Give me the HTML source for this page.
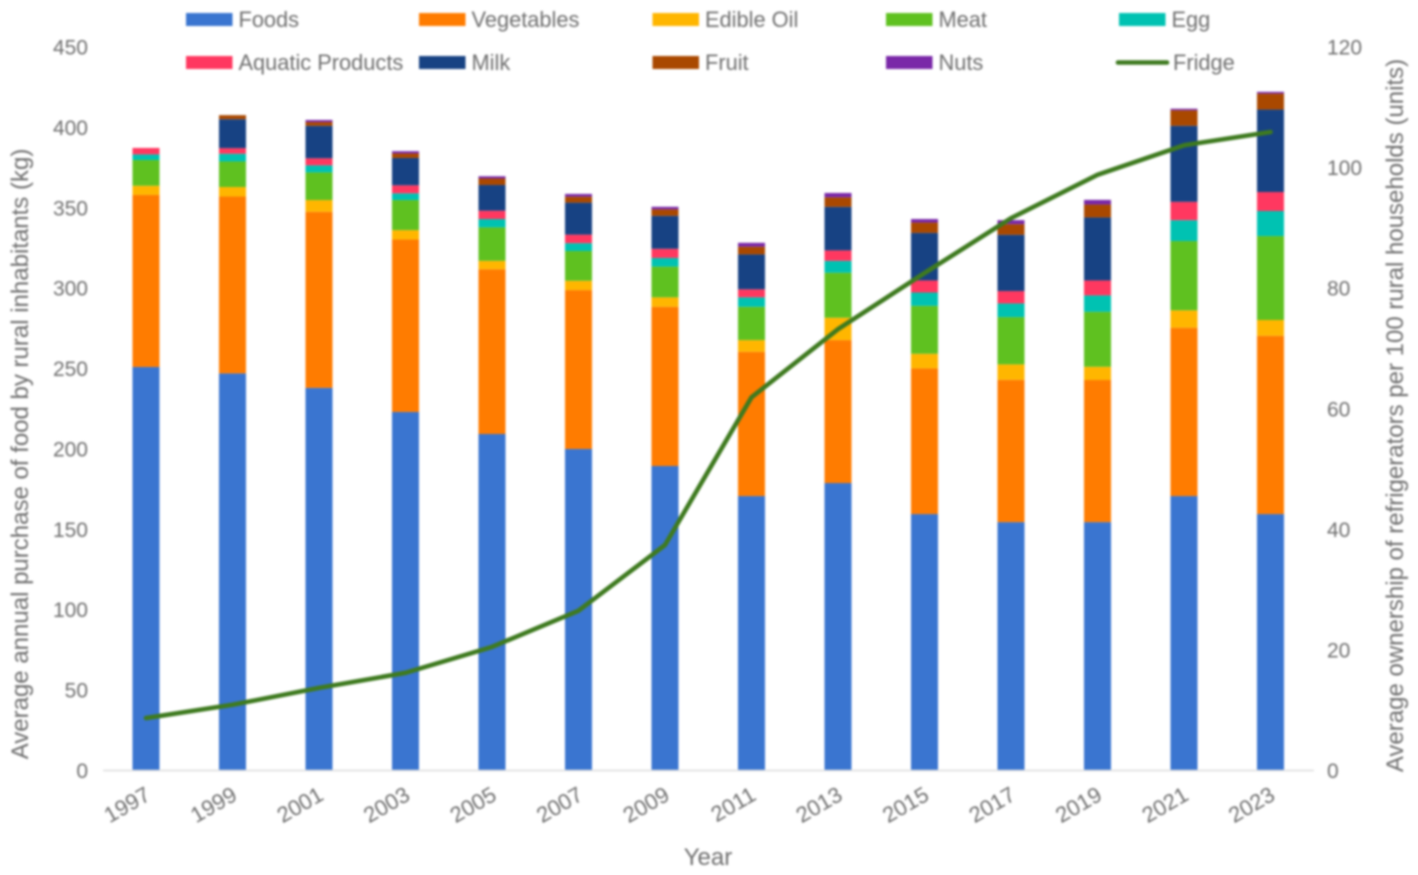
<!DOCTYPE html>
<html lang="en">
<head>
<meta charset="utf-8">
<title>Rural food purchases and refrigerator ownership</title>
<style>
  html, body { margin: 0; padding: 0; background: #fff; }
  #chart { display: block; width: 1418px; height: 875px; filter: blur(0.95px); }
  text { font-family: "Liberation Sans", Arial, sans-serif; fill: #6f6f6f; }
</style>
</head>
<body>
<svg id="chart" xmlns="http://www.w3.org/2000/svg" width="1418" height="875" viewBox="0 0 1418 875">
  <g id="bars"></g>
  <line x1="103" y1="770.5" x2="1314" y2="770.5" stroke="#dddddd" stroke-width="1.6"></line>
  <path id="fridge-line" fill="none" stroke="#3e7a1f" stroke-width="4.6" stroke-linejoin="round" stroke-linecap="round"></path>
  <g id="left-ticks"></g>
  <g id="right-ticks"></g>
  <g id="x-ticks"></g>
  <text x="708" y="865" text-anchor="middle" font-size="24">Year</text>
  <text transform="translate(28,454) rotate(-90)" text-anchor="middle" font-size="24">Average annual purchase of food by rural inhabitants (kg)</text>
  <text transform="translate(1403,415.5) rotate(-90)" text-anchor="middle" font-size="24">Average ownership of refrigerators per 100 rural households (units)</text>
  <g id="legend"></g>
</svg>
<script>
const years = [1997,1999,2001,2003,2005,2007,2009,2011,2013,2015,2017,2019,2021,2023];
const foods = [251,247,238,223,209.3,200,189.4,170.7,178.8,159.5,154.5,154.5,170.7,159.5];
const vegetables = [107,110,109.5,107.3,102.5,98.8,99,89.7,88.9,90.6,88.5,88.4,104.7,110.9];
const edibleOil = [5.7,5.9,7.3,5.8,5.2,5.8,5.9,7.3,13.9,9.1,9.6,8.2,10.8,9.8];
const meat = [16,15.9,17.2,18.7,20.8,18.5,19.1,20.7,28,29.8,29.4,34.2,43.1,52.2];
const egg = [3.5,4.8,4.4,4.2,5.2,4.9,5.4,5.9,7.4,8.3,8.5,10.2,13,15.6];
const aquaticProducts = [4,3.5,4.4,5,5.2,5.3,5.7,5,6.5,7.5,7.7,9.3,11.4,11.8];
const milk = [0,18,20.2,17,16,19.9,20.5,21.7,27.1,29.6,35,39.2,47.3,51.3];
const fruit = [0,2.5,2.3,2.8,4,3.7,4,4.8,5.9,6.4,6.6,8,9.6,9.9];
const nuts = [0,0,1.3,1.4,1.4,1.7,1.6,2.4,2.7,2.2,2.5,2.9,1,1.1];
const fridge = [8.7,10.9,13.7,16.2,20.5,26.5,37.4,61.9,73.2,82.5,91.6,98.8,103.7,105.9];
const leftTicks = [0,50,100,150,200,250,300,350,400,450];
const rightTicks = [0,20,40,60,80,100,120];

const SVG_NS = 'http://www.w3.org/2000/svg';
const baseY = 770.5, topY = 47, leftMax = 450, rightMax = 120;
const firstX = 146, stepX = 86.5, barW = 27;
function xPos(i) { return firstX + i * stepX; }
function yLeft(v) { return baseY - (v / leftMax) * (baseY - topY); }
function yRight(v) { return baseY - (v / rightMax) * (baseY - topY); }

const stackSeries = [
  { label: 'Foods', key: 'foods', values: foods, color: '#3a75d0' },
  { label: 'Vegetables', key: 'vegetables', values: vegetables, color: '#ff7c00' },
  { label: 'Edible Oil', key: 'edible-oil', values: edibleOil, color: '#ffb600' },
  { label: 'Meat', key: 'meat', values: meat, color: '#5fc120' },
  { label: 'Egg', key: 'egg', values: egg, color: '#00c2b2' },
  { label: 'Aquatic Products', key: 'aquatic-products', values: aquaticProducts, color: '#ff3860' },
  { label: 'Milk', key: 'milk', values: milk, color: '#174283' },
  { label: 'Fruit', key: 'fruit', values: fruit, color: '#a94800' },
  { label: 'Nuts', key: 'nuts', values: nuts, color: '#7a28a8' }
];

function make(tag, attrs, parent) {
  const el = document.createElementNS(SVG_NS, tag);
  for (const k in attrs) el.setAttribute(k, attrs[k]);
  parent.appendChild(el);
  return el;
}

const barsGroup = document.getElementById('bars');
years.forEach(function (year, i) {
  let cumulative = 0;
  stackSeries.forEach(function (s) {
    const v = s.values[i];
    if (v <= 0) return;
    const yTop = yLeft(cumulative + v);
    const yBottom = yLeft(cumulative);
    const r = make('rect', { x: xPos(i) - barW / 2, y: yTop, width: barW, height: yBottom - yTop, fill: s.color }, barsGroup);
    
    
    cumulative += v;
  });
});

// Straight polyline through the fridge values.
const lineD = fridge.map(function (v, i) {
  return (i === 0 ? 'M' : 'L') + xPos(i) + ' ' + yRight(v);
}).join(' ');
document.getElementById('fridge-line').setAttribute('d', lineD);

const leftGroup = document.getElementById('left-ticks');
leftTicks.forEach(function (t) {
  const el = make('text', { x: 88, y: yLeft(t) + 7.5, 'text-anchor': 'end', 'font-size': 21 }, leftGroup);
  
  
  el.textContent = t;
});

const rightGroup = document.getElementById('right-ticks');
rightTicks.forEach(function (t) {
  const el = make('text', { x: 1327, y: yRight(t) + 7.5, 'text-anchor': 'start', 'font-size': 21 }, rightGroup);
  
  
  el.textContent = t;
});

const xGroup = document.getElementById('x-ticks');
years.forEach(function (year, i) {
  const ax = xPos(i) + 6, ay = 799;
  const el = make('text', { x: ax, y: ay, 'text-anchor': 'end', 'font-size': 22, transform: 'rotate(-30 ' + ax + ' ' + ay + ')' }, xGroup);
  
  
  el.textContent = year;
});

const legendGroup = document.getElementById('legend');
const legendCols = [186, 419, 652.5, 886, 1119];
const legendRows = [19.5, 62.5];
const legendEntries = stackSeries.concat([{ label: 'Fridge', key: 'fridge', color: '#3e7a1f', isLine: true }]);
legendEntries.forEach(function (s, i) {
  const col = legendCols[i % 5], row = legendRows[Math.floor(i / 5)];
  if (s.isLine) {
    const m = make('line', { x1: col - 1, x2: col + 48, y1: row, y2: row, stroke: s.color, 'stroke-width': 4.6, 'stroke-linecap': 'round' }, legendGroup);
    
    
  } else {
    const m = make('rect', { x: col, y: row - 6.5, width: 46.5, height: 13, fill: s.color }, legendGroup);
    
    
  }
  const t = make('text', { x: col + 52.5 + (s.isLine ? 1.5 : 0), y: row + 7.5, 'font-size': 21.8 }, legendGroup);
  
  
  t.textContent = s.label;
});
</script>
</body>
</html>
